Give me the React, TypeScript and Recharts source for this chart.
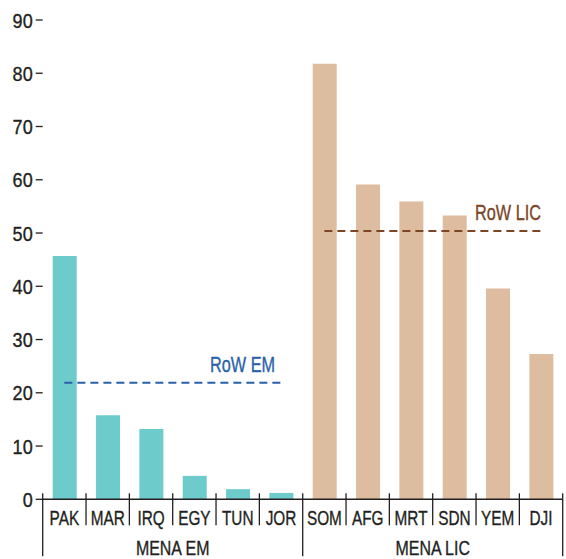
import React from 'react';
import { BarChart, Bar, XAxis, YAxis, Cell, ReferenceLine } from 'recharts';

const categories = ['PAK', 'MAR', 'IRQ', 'EGY', 'TUN', 'JOR', 'SOM', 'AFG', 'MRT', 'SDN', 'YEM', 'DJI'];
const values = [45.7, 15.8, 13.2, 4.4, 1.9, 1.2, 81.8, 59.1, 55.9, 53.3, 39.6, 27.3];
const groupOf = [0, 0, 0, 0, 0, 0, 1, 1, 1, 1, 1, 1];
const groupNames = ['MENA EM', 'MENA LIC'];
const rowLabels = ['RoW EM', 'RoW LIC'];
const rowValues = [21.9, 50.4];
const yTicks = [0, 10, 20, 30, 40, 50, 60, 70, 80, 90];

const barColors = ['#6ecbcc', '#debc9f'];
const lineColors = ['#2a5faa', '#7b4526'];
const textColor = '#231f20';
const FONT = '"Liberation Sans", Arial, sans-serif';

const data = categories.map((c, i) => ({ cat: c, value: values[i], group: groupOf[i] }));

const groupRange = (g: number) => {
  const idx = groupOf.map((v, i) => (v === g ? i : -1)).filter((i) => i >= 0);
  return { start: idx[0], end: idx[idx.length - 1] };
};

const NText = ({ x, y, anchor, size, sx, fill, children }: any) => (
  <text
    transform={`translate(${x},${y}) scale(${sx},1)`}
    x={0}
    y={0}
    textAnchor={anchor}
    fontSize={size}
    fill={fill}
    stroke={fill}
    strokeWidth={0.35}
    fontFamily={FONT}
  >
    {children}
  </text>
);

const XTick = (props: any) => {
  const { x, y, payload } = props;
  const index: number = payload.index;
  const off: number = payload.offset;
  const g = groupOf[index];
  const { start, end } = groupRange(g);
  const isGroupStart = index === start;
  const isLast = index === categories.length - 1;
  const left = x - off;
  const right = x + off;
  const els: React.ReactNode[] = [];
  els.push(
    <line key="l" x1={left} x2={left} y1={y - 6} y2={isGroupStart ? y + 57 : y + 26} stroke={textColor} strokeWidth={1.3} />
  );
  if (isLast) {
    els.push(<line key="r" x1={right} x2={right} y1={y - 6} y2={y + 57} stroke={textColor} strokeWidth={1.3} />);
  }
  els.push(
    <NText key="t" x={x} y={y + 25.7} anchor="middle" size={21} sx={0.73} fill={textColor}>
      {payload.value}
    </NText>
  );
  if (isGroupStart) {
    const count = end - start + 1;
    const cx = left + count * off;
    els.push(
      <NText key="g" x={cx} y={y + 55.5} anchor="middle" size={21} sx={0.76} fill={textColor}>
        {groupNames[g]}
      </NText>
    );
  }
  return <g>{els}</g>;
};

const YTick = (props: any) => {
  const { x, y, payload } = props;
  return (
    <NText x={x} y={y + 7.5} anchor="end" size={21} sx={0.86} fill={textColor}>
      {payload.value}
    </NText>
  );
};

const makeLabel = (text: string, color: string, dx: number) => (p: any) => {
  const vb = p.viewBox || {};
  return (
    <NText x={vb.x + vb.width + dx} y={vb.y - 10.5} anchor="end" size={21.4} sx={0.76} fill={color}>
      {text}
    </NText>
  );
};

export default function App() {
  const firstOf = (g: number) => categories[groupRange(g).start];
  const lastOf = (g: number) => categories[groupRange(g).end];
  return (
    <div>
      <style>{'body{margin:0}'}</style>
      <BarChart
        width={566}
        height={559}
        data={data}
        margin={{ top: 20, right: 0, left: 0, bottom: 0 }}
        barSize={24}
      >
        <XAxis
          dataKey="cat"
          interval={0}
          height={59.7}
          tickSize={0}
          tickMargin={0}
          tickLine={false}
          axisLine={{ stroke: textColor, strokeWidth: 1.5 }}
          tick={<XTick />}
        />
        <YAxis
          yAxisId="left"
          domain={[0, 90]}
          ticks={yTicks}
          width={42.7}
          axisLine={false}
          tickSize={7}
          tickMargin={3}
          tickLine={{ stroke: textColor, strokeWidth: 1.3 }}
          tick={<YTick />}
        />
        <YAxis
          yAxisId="right"
          orientation="right"
          domain={[0, 90]}
          ticks={yTicks}
          width={3.3}
          axisLine={false}
          tickSize={7}
          tickLine={{ stroke: textColor, strokeWidth: 1.3 }}
          tickFormatter={() => ''}
        />
        <Bar yAxisId="left" dataKey="value" isAnimationActive={false}>
          {data.map((d, i) => (
            <Cell key={i} fill={barColors[d.group]} />
          ))}
        </Bar>
        {rowValues.map((v, g) => (
          <ReferenceLine
            key={g}
            yAxisId="left"
            segment={[
              { x: firstOf(g), y: v },
              { x: lastOf(g), y: v },
            ]}
            stroke={lineColors[g]}
            strokeWidth={2}
            strokeDasharray="8 5"
            label={makeLabel(rowLabels[g], lineColors[g], g === 0 ? -6 : 0)}
          />
        ))}
      </BarChart>
    </div>
  );
}
